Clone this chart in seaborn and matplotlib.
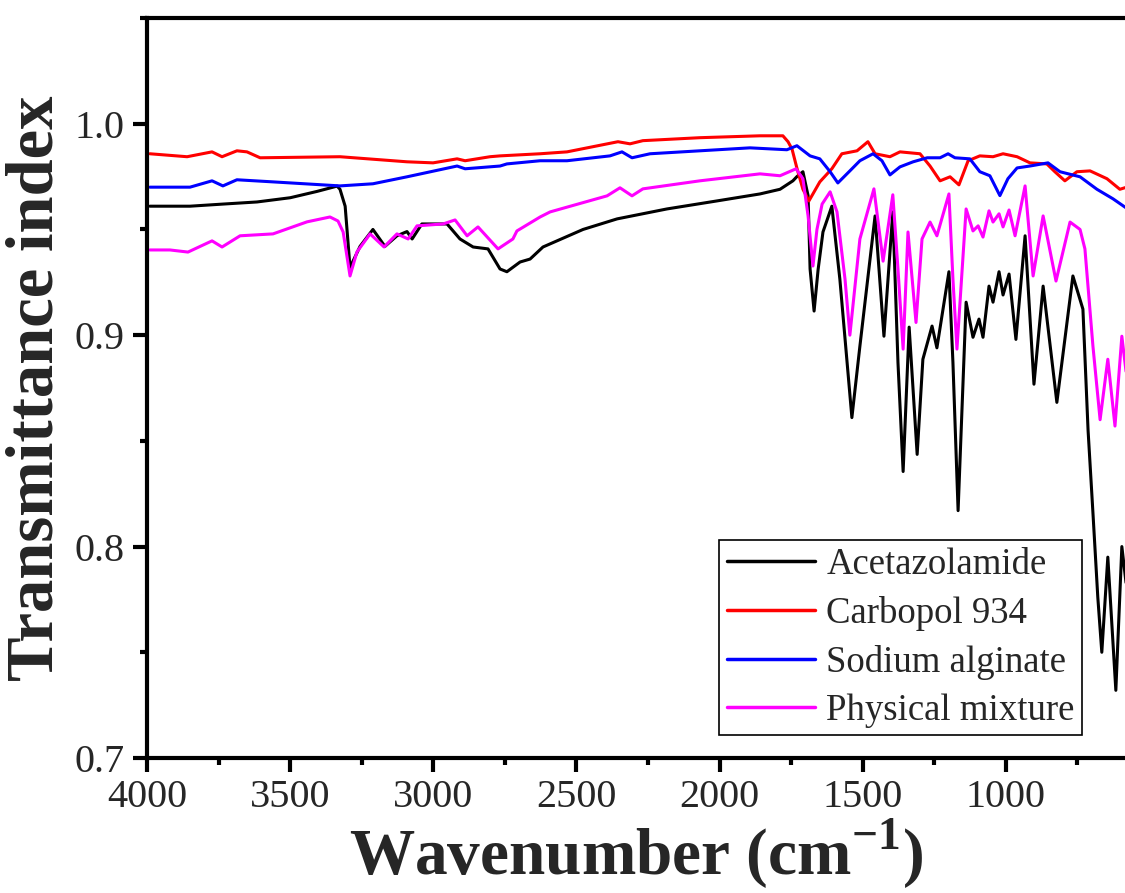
import numpy as np
import pandas as pd
import matplotlib
matplotlib.use("Agg")
import matplotlib.pyplot as plt
from matplotlib.ticker import MultipleLocator
import seaborn as sns

# FTIR spectra (wavenumber in cm-1, transmittance index)
acet_wn = [3990, 3850, 3735, 3616, 3500, 3406, 3336, 3326, 3308, 3291, 3256, 3211, 3169, 3127,
           3092, 3074, 3040, 2952, 2907, 2861, 2809, 2767, 2743, 2697, 2662, 2617, 2477, 2358,
           2184, 2009, 1859, 1789, 1744, 1730, 1709, 1691, 1684, 1670, 1656, 1639, 1608, 1580,
           1538, 1510, 1457, 1426, 1395, 1377, 1359, 1338, 1310, 1290, 1258, 1241, 1199, 1185,
           1167, 1139, 1115, 1094, 1080, 1059, 1045, 1024, 1010, 989, 965, 933, 902, 870, 822,
           766, 731, 713, 696, 679, 665, 644, 616, 595, 578]
acet_t = [0.961, 0.961, 0.962, 0.963, 0.965, 0.968, 0.9705, 0.969, 0.961, 0.932, 0.942, 0.950,
          0.942, 0.947, 0.949, 0.9455, 0.9526, 0.9526, 0.9455, 0.9417, 0.9408, 0.9313, 0.930,
          0.9346, 0.936, 0.9417, 0.950, 0.955, 0.9597, 0.9635, 0.9668, 0.969, 0.973, 0.975,
          0.9773, 0.966, 0.9313, 0.9114, 0.931, 0.9488, 0.961, 0.9265, 0.861, 0.8948, 0.9564,
          0.8995, 0.9583, 0.887, 0.8355, 0.9038, 0.8436, 0.8886, 0.9043, 0.894, 0.930, 0.887,
          0.817, 0.9156, 0.899, 0.9076, 0.899, 0.9232, 0.9156, 0.930, 0.919, 0.9289, 0.898,
          0.947, 0.8768, 0.9232, 0.8682, 0.928, 0.9123, 0.855, 0.816, 0.776, 0.750, 0.795,
          0.732, 0.800, 0.780]

carb_wn = [3990, 3860, 3773, 3738, 3686, 3651, 3605, 3326, 3092, 3001, 2917, 2889, 2802, 2767,
           2627, 2533, 2355, 2313, 2268, 2069, 1859, 1779, 1761, 1747, 1730, 1709, 1688, 1650,
           1608, 1573, 1520, 1482, 1457, 1405, 1370, 1300, 1265, 1230, 1195, 1164, 1132, 1091,
           1045, 1010, 961, 916, 857, 829, 794, 752, 706, 647, 602, 578]
carb_t = [0.9858, 0.9844, 0.9867, 0.9844, 0.9872, 0.9867, 0.9839, 0.9844, 0.982, 0.9815,
          0.9834, 0.9825, 0.9844, 0.9848, 0.9858, 0.9867, 0.9915, 0.9905, 0.992, 0.9934,
          0.9943, 0.9943, 0.9915, 0.988, 0.979, 0.969, 0.9635, 0.9725, 0.9787, 0.9858, 0.9872,
          0.9915, 0.9858, 0.9844, 0.9867, 0.9858, 0.980, 0.973, 0.9749, 0.9711, 0.9825,
          0.9848, 0.9844, 0.9858, 0.9844, 0.9815, 0.981, 0.9773, 0.973, 0.9773, 0.9777, 0.974,
          0.969, 0.970]

alg_wn = [3990, 3850, 3773, 3735, 3686, 3560, 3326, 3211, 3092, 2917, 2889, 2767, 2743, 2627,
          2533, 2383, 2341, 2306, 2243, 2069, 1894, 1765, 1730, 1684, 1650, 1614, 1587, 1545,
          1510, 1464, 1433, 1405, 1370, 1324, 1275, 1230, 1202, 1178, 1126, 1091, 1056, 1021,
          993, 961, 916, 853, 811, 741, 682, 626, 578]
alg_t = [0.970, 0.970, 0.973, 0.9706, 0.9735, 0.9725, 0.9706, 0.9716, 0.9749, 0.980, 0.9787,
         0.980, 0.981, 0.9825, 0.9825, 0.9848, 0.9867, 0.9839, 0.9858, 0.9872, 0.9886, 0.9877,
         0.9896, 0.9848, 0.9834, 0.9773, 0.972, 0.9777, 0.9825, 0.9858, 0.9825, 0.9758,
         0.9796, 0.982, 0.9839, 0.9839, 0.9858, 0.9839, 0.9834, 0.9773, 0.9754, 0.966, 0.974,
         0.9791, 0.980, 0.9815, 0.9773, 0.9749, 0.969, 0.9645, 0.960]

mix_wn = [3990, 3920, 3857, 3773, 3738, 3675, 3560, 3441, 3361, 3333, 3315, 3291, 3267, 3221,
          3172, 3127, 3088, 3057, 2966, 2924, 2882, 2844, 2774, 2722, 2708, 2627, 2592, 2393,
          2348, 2306, 2268, 2069, 1859, 1789, 1733, 1709, 1691, 1674, 1660, 1642, 1614, 1590,
          1562, 1545, 1510, 1461, 1429, 1395, 1377, 1359, 1342, 1314, 1293, 1265, 1241, 1199,
          1185, 1171, 1139, 1115, 1097, 1080, 1059, 1045, 1024, 1010, 989, 968, 933, 905, 870,
          825, 776, 741, 724, 696, 671, 644, 619, 595, 578]
mix_t = [0.9403, 0.9403, 0.9393, 0.9446, 0.9417, 0.947, 0.9479, 0.9536, 0.9559, 0.954, 0.9488,
         0.928, 0.9393, 0.9479, 0.9417, 0.9479, 0.9455, 0.9517, 0.9526, 0.9545, 0.947, 0.9512,
         0.9408, 0.9455, 0.9493, 0.9559, 0.9583, 0.9659, 0.9697, 0.9659, 0.9692, 0.973,
         0.9763, 0.9754, 0.9787, 0.974, 0.9564, 0.9327, 0.950, 0.962, 0.9678, 0.9583, 0.9265,
         0.900, 0.9455, 0.9692, 0.935, 0.9664, 0.9313, 0.8934, 0.9488, 0.906, 0.9455, 0.9535,
         0.947, 0.9668, 0.9265, 0.8934, 0.9597, 0.9493, 0.9517, 0.9464, 0.9588, 0.9535,
         0.9574, 0.9512, 0.9592, 0.947, 0.9706, 0.928, 0.9564, 0.9256, 0.9535, 0.950, 0.9408,
         0.8948, 0.860, 0.8886, 0.857, 0.8995, 0.880]

names = ["Acetazolamide", "Carbopol 934", "Sodium alginate", "Physical mixture"]
colors = ["#000000", "#FF0000", "#0000FF", "#FF00FF"]

frames = []
for name, wn, t in zip(names, [acet_wn, carb_wn, alg_wn, mix_wn], [acet_t, carb_t, alg_t, mix_t]):
    frames.append(pd.DataFrame({"wavenumber": wn, "T": t, "sample": name}))
df = pd.concat(frames, ignore_index=True)

sns.set_style("ticks")
plt.rcParams["font.family"] = ["Liberation Serif", "DejaVu Serif"]
plt.rcParams["mathtext.fontset"] = "custom"
plt.rcParams["mathtext.rm"] = "Liberation Serif"
plt.rcParams["mathtext.bf"] = "Liberation Serif:bold"

fig = plt.figure(figsize=(11.25, 8.93), dpi=100)
ax = fig.add_axes([0.1307, 0.1512, 0.8693, 0.8286])

sns.lineplot(data=df, x="wavenumber", y="T", hue="sample", hue_order=names,
             palette=dict(zip(names, colors)), estimator=None, sort=True,
             linewidth=2.2, ax=ax)

ax.set_xlim(4000, 584)
ax.set_ylim(0.7, 1.05)
ax.xaxis.set_major_locator(MultipleLocator(500))
ax.xaxis.set_minor_locator(MultipleLocator(250))
ax.yaxis.set_major_locator(MultipleLocator(0.1))
ax.yaxis.set_minor_locator(MultipleLocator(0.05))
ax.set_yticks([0.7, 0.8, 0.9, 1.0])
ax.set_yticklabels(["0.7", "0.8", "0.9", "1.0"])

for side in ["left", "bottom", "top"]:
    ax.spines[side].set_linewidth(3)
    ax.spines[side].set_color("black")
ax.spines["right"].set_visible(False)

ax.tick_params(axis="both", which="major", direction="out", length=10, width=3,
               labelsize=29, color="black", pad=6)
ax.tick_params(axis="both", which="minor", direction="out", length=5, width=3, color="black")
ax.tick_params(axis="x", which="major", pad=5)
ax.tick_params(top=False, right=False, which="both")

ax.set_xlabel(r"Wavenumber (cm$^{\mathbf{-1}}$)", fontsize=47, fontweight="bold", labelpad=1)
ax.set_ylabel("Transmittance index", fontsize=48, fontweight="bold", labelpad=6)

handles, labels = ax.get_legend_handles_labels()
leg = ax.legend(handles, labels, loc="lower right", bbox_to_anchor=(0.956, 0.031),
                borderaxespad=0, fontsize=26.5, frameon=True, fancybox=False,
                edgecolor="black", framealpha=1, handlelength=2.4, handletextpad=0.3,
                labelspacing=0.37, borderpad=0.2)
leg.get_frame().set_linewidth(1.2)
for line in leg.get_lines():
    line.set_linewidth(2.5)

fig.savefig("out.png", dpi=100)
